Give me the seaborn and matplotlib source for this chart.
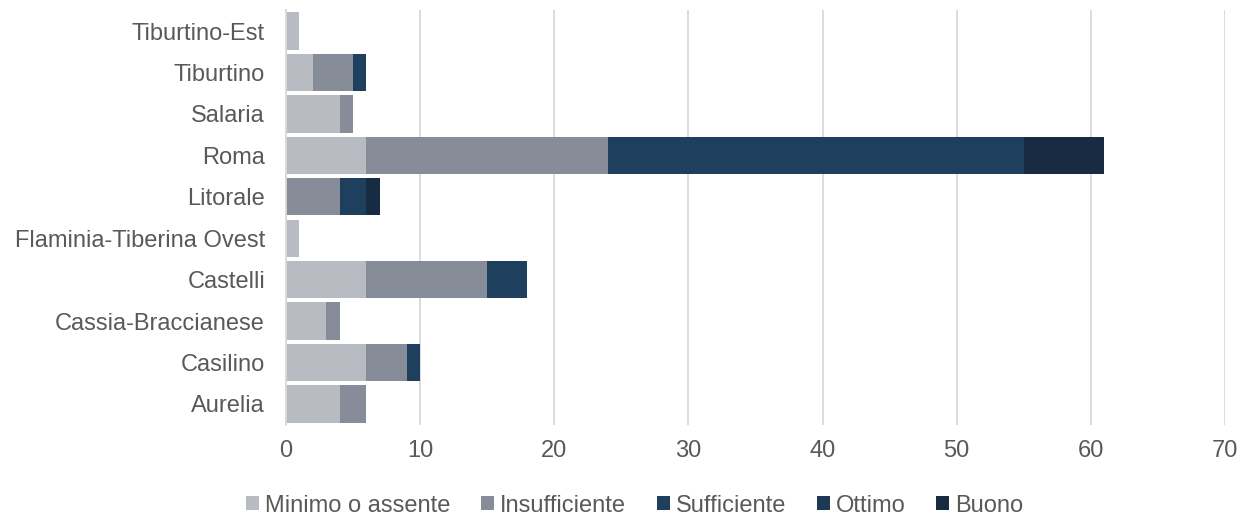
import matplotlib
matplotlib.use("Agg")
import matplotlib.pyplot as plt
from matplotlib.patches import Patch
import numpy as np
import pandas as pd
import seaborn as sns

# Areas, listed top to bottom
areas = ["Tiburtino-Est", "Tiburtino", "Salaria", "Roma", "Litorale",
         "Flaminia-Tiberina Ovest", "Castelli", "Cassia-Braccianese",
         "Casilino", "Aurelia"]

# Counts per rating level
minimo = [1, 2, 4, 6, 0, 1, 6, 3, 6, 4]
insufficiente = [0, 3, 1, 18, 4, 0, 9, 1, 3, 2]
sufficiente = [0, 1, 0, 31, 2, 0, 3, 0, 1, 0]
ottimo = [0, 0, 0, 0, 0, 0, 0, 0, 0, 0]
buono = [0, 0, 0, 6, 1, 0, 0, 0, 0, 0]

levels = ["Minimo o assente", "Insufficiente", "Sufficiente", "Ottimo", "Buono"]
colors = ["#b8bbc2", "#878d98", "#1f3f5e", "#1c3956", "#172b43"]

df = pd.DataFrame({"area": areas,
                   levels[0]: minimo, levels[1]: insufficiente,
                   levels[2]: sufficiente, levels[3]: ottimo, levels[4]: buono})
cum = df[levels].cumsum(axis=1)

sns.set_theme(style="white")
plt.rcParams["font.family"] = ["Liberation Sans", "DejaVu Sans"]

fs = 17

fig = plt.figure(figsize=(12.4, 5.15), dpi=100)
ax = fig.add_axes([0.2306, 0.1753, 0.7573, 0.8047])

# Stacked bars: draw cumulative totals from the outermost level inward
for lvl, col in reversed(list(zip(levels, colors))):
    sns.barplot(x=cum[lvl], y=df["area"], order=areas, color=col,
                width=0.9, linewidth=0, saturation=1, orient="h", ax=ax)

ax.set_xlim(0, 70)
ax.set_ylim(9.5, -0.5)
ax.set_xticks(np.arange(0, 71, 10))
ax.xaxis.grid(True, color="#d9d9d9", linewidth=1.3)
ax.set_axisbelow(True)
ax.set_xlabel("")
ax.set_ylabel("")
for s in ["top", "right", "bottom"]:
    ax.spines[s].set_visible(False)
ax.spines["left"].set_color("#d9d9d9")
ax.spines["left"].set_linewidth(1.3)
ax.tick_params(axis="both", length=0, labelsize=fs, colors="#595959")
ax.tick_params(axis="y", pad=15)
ax.tick_params(axis="x", pad=11)

handles = [Patch(facecolor=c, edgecolor="none") for c in colors]
fig.legend(handles, levels, loc="center", bbox_to_anchor=(0.512, 0.018),
           ncol=5, frameon=False, fontsize=fs, labelcolor="#595959",
           handlelength=0.55, handleheight=0.55, handletextpad=0.25,
           columnspacing=1.3, borderaxespad=0)

fig.savefig("out.png", dpi=100)
